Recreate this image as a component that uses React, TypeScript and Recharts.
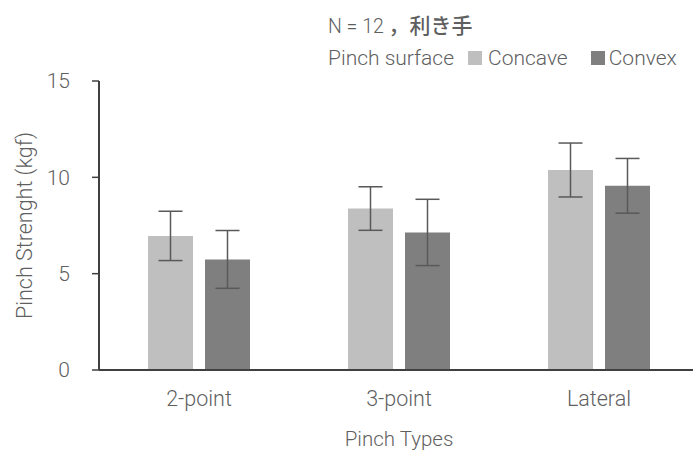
import React from 'react';
import { BarChart, Bar, XAxis, YAxis, ErrorBar, Label } from 'recharts';

const categories = ['2-point', '3-point', 'Lateral'];
const concave = [6.96, 8.38, 10.38];
const concaveErr = [1.28, 1.13, 1.4];
const convex = [5.74, 7.14, 9.56];
const convexErr = [1.5, 1.72, 1.42];
const yTicks = [0, 5, 10, 15];

const data = categories.map((name, i) => ({
  name,
  concave: concave[i],
  concaveErr: concaveErr[i],
  convex: convex[i],
  convexErr: convexErr[i],
}));

const FONT = "Roboto, 'Noto Sans CJK JP', sans-serif";
const TEXT = '#5f5f5f';

function YLabel({ viewBox }: any) {
  const cy = viewBox.y + viewBox.height / 2;
  return (
    <text x={24} y={cy} transform={`rotate(-90 24 ${cy})`} textAnchor="middle" dominantBaseline="central"
      fill={TEXT} fontSize={21.5} fontFamily={FONT} fontWeight={300}>
      Pinch Strenght (kgf)
    </text>
  );
}

export default function App() {
  return (
    <div style={{ position: 'absolute', left: 0, top: 0, width: 693, height: 453, overflow: 'hidden', background: '#fff', fontFamily: FONT }}>
      <div style={{ position: 'absolute', left: 328, top: 9, fontSize: 19.5, color: TEXT, fontWeight: 300, whiteSpace: 'nowrap' }}>
        N = 12 <span style={{ fontWeight: 500, fontSize: 21 }}>，利き手</span>
      </div>
      <div style={{ position: 'absolute', left: 328, top: 46, fontSize: 21, color: TEXT, fontWeight: 300, display: 'flex', alignItems: 'center', whiteSpace: 'nowrap' }}>
        <span>Pinch surface</span>
        <span style={{ display: 'inline-block', width: 14, height: 14, background: '#bfbfbf', marginLeft: 14, marginRight: 6 }} />
        <span>Concave</span>
        <span style={{ display: 'inline-block', width: 14, height: 14, background: '#7f7f7f', marginLeft: 23, marginRight: 4 }} />
        <span>Convex</span>
      </div>
      <BarChart width={699} height={453} data={data} margin={{ top: 81, right: 0, left: 0, bottom: 0 }}
        barCategoryGap={49} barGap={12}>
        <XAxis dataKey="name" height={83} axisLine={{ stroke: '#404040', strokeWidth: 2 }} tickLine={false}
          tick={{ fill: TEXT, fontSize: 21.5, fontFamily: FONT, fontWeight: 300 }} dy={13}>
          <Label value="Pinch Types" position="insideBottom" offset={7} fill={TEXT} fontSize={20.5} fontFamily={FONT} fontWeight={300} />
        </XAxis>
        <YAxis width={99} domain={[0, 15]} ticks={yTicks} interval={0} axisLine={{ stroke: '#404040', strokeWidth: 2 }}
          tickLine={{ stroke: '#404040', strokeWidth: 1.5 }} tickSize={7} tickMargin={22}
          tick={{ fill: TEXT, fontSize: 21, fontFamily: FONT, fontWeight: 300 }}
          label={{ content: YLabel }} />
        <Bar dataKey="concave" fill="#bfbfbf" barSize={45} isAnimationActive={false}>
          <ErrorBar dataKey="concaveErr" width={12} stroke="#595959" strokeWidth={1.5} direction="y" />
        </Bar>
        <Bar dataKey="convex" fill="#7f7f7f" barSize={45} isAnimationActive={false}>
          <ErrorBar dataKey="convexErr" width={12} stroke="#595959" strokeWidth={1.5} direction="y" />
        </Bar>
      </BarChart>
    </div>
  );
}
